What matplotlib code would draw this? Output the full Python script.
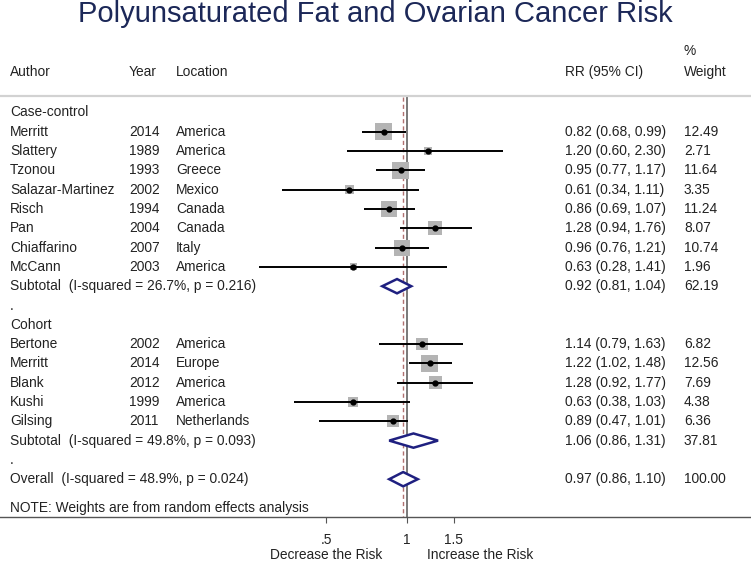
import matplotlib.pyplot as plt
import numpy as np

plt.rcParams['font.family'] = ['Liberation Sans', 'DejaVu Sans']

# case-control studies
cc_author = ['Merritt', 'Slattery', 'Tzonou', 'Salazar-Martinez', 'Risch', 'Pan', 'Chiaffarino', 'McCann']
cc_year = ['2014', '1989', '1993', '2002', '1994', '2004', '2007', '2003']
cc_loc = ['America', 'America', 'Greece', 'Mexico', 'Canada', 'Canada', 'Italy', 'America']
cc_rr = [0.82, 1.20, 0.95, 0.61, 0.86, 1.28, 0.96, 0.63]
cc_lo = [0.68, 0.60, 0.77, 0.34, 0.69, 0.94, 0.76, 0.28]
cc_hi = [0.99, 2.30, 1.17, 1.11, 1.07, 1.76, 1.21, 1.41]
cc_w = [12.49, 2.71, 11.64, 3.35, 11.24, 8.07, 10.74, 1.96]

# cohort studies
co_author = ['Bertone', 'Merritt', 'Blank', 'Kushi', 'Gilsing']
co_year = ['2002', '2014', '2012', '1999', '2011']
co_loc = ['America', 'Europe', 'America', 'America', 'Netherlands']
co_rr = [1.14, 1.22, 1.28, 0.63, 0.89]
co_lo = [0.79, 1.02, 0.92, 0.38, 0.47]
co_hi = [1.63, 1.48, 1.77, 1.03, 1.01]
co_w = [6.82, 12.56, 7.69, 4.38, 6.36]

# pooled estimates: case-control, cohort, overall
pool_label = ['Subtotal  (I-squared = 26.7%, p = 0.216)',
              'Subtotal  (I-squared = 49.8%, p = 0.093)',
              'Overall  (I-squared = 48.9%, p = 0.024)']
pool_rr = [0.92, 1.06, 0.97]
pool_lo = [0.81, 0.86, 0.86]
pool_hi = [1.04, 1.31, 1.10]
pool_w = [62.19, 37.81, 100.00]

W, H = 751, 561
y0, dy = 112.5, 19.3          # pixel y of first row, row spacing
ax_top, ax_bot = 40, 517


def row(px):
    return (px - y0) / dy


fig = plt.figure(figsize=(W / 100, H / 100), dpi=100)
ax = fig.add_axes([0, (H - ax_bot) / H, 1, (ax_bot - ax_top) / H])
ax.set_xscale('log')
ax.set_xlim(np.exp(-406.7 / 116), np.exp((W - 406.7) / 116))
ax.set_ylim(row(ax_bot), row(ax_top))
for s in ['top', 'left', 'right']:
    ax.spines[s].set_visible(False)
ax.spines['bottom'].set_color('#555555')
ax.spines['bottom'].set_linewidth(1.0)
ax.set_yticks([])
ax.set_xticks([0.5, 1, 1.5], ['.5', '1', '1.5'])
ax.xaxis.set_minor_locator(plt.NullLocator())
ax.tick_params(axis='x', length=4.5, width=0.8, color='#555555', pad=7,
               labelsize=9.9, labelcolor='#222222')

tr = ax.get_yaxis_transform()
tc = '#222222'
fs = 9.9
x_auth, x_year, x_loc, x_rr, x_w = 10 / W, 129 / W, 176 / W, 565 / W, 684 / W

fig.text(0.5, 1 - 22 / H, 'Polyunsaturated Fat and Ovarian Cancer Risk',
         ha='center', va='baseline', fontsize=21, color='#1c2858')

# header
hy = row(72)
ax.text(x_auth, hy, 'Author', transform=tr, va='center', fontsize=fs, color=tc)
ax.text(x_year, hy, 'Year', transform=tr, va='center', fontsize=fs, color=tc)
ax.text(x_loc, hy, 'Location', transform=tr, va='center', fontsize=fs, color=tc)
ax.text(x_rr, hy, 'RR (95% CI)', transform=tr, va='center', fontsize=fs, color=tc)
ax.text(x_w, hy, 'Weight', transform=tr, va='center', fontsize=fs, color=tc)
ax.text(x_w, row(51), '%', transform=tr, va='center', fontsize=fs, color=tc)
ax.axhline(row(95.5), color='#d2d2d2', lw=1.6)

# reference lines
ax.plot([1, 1], [row(97), row(ax_bot)], color='#6e6e6e', lw=1.3, zorder=1)
ax.plot([pool_rr[2]] * 2, [row(97), row(ax_bot)], color='#b07070', lw=1.0,
        ls=(0, (3, 2.2)), zorder=1)


def study_rows(authors, years, locs, rr, lo, hi, w, start):
    ys = start + np.arange(len(authors))
    for y, a, yr, lc, r, l, h, wt in zip(ys, authors, years, locs, rr, lo, hi, w):
        ax.text(x_auth, y, a, transform=tr, va='center', fontsize=fs, color=tc)
        ax.text(x_year, y, yr, transform=tr, va='center', fontsize=fs, color=tc)
        ax.text(x_loc, y, lc, transform=tr, va='center', fontsize=fs, color=tc)
        ax.text(x_rr, y, f'{r:.2f} ({l:.2f}, {h:.2f})', transform=tr, va='center',
                fontsize=fs, color=tc)
        ax.text(x_w, y, f'{wt:.2f}', transform=tr, va='center', fontsize=fs, color=tc)
    side = 4.9 * np.sqrt(np.array(w)) * 0.72
    ax.scatter(rr, ys, s=side ** 2, marker='s', color='#b4b4b4', lw=0, zorder=2)
    ax.hlines(ys, lo, hi, color='black', lw=1.4, zorder=3)
    ax.plot(rr, ys, 'o', color='black', ms=3.5, zorder=4)


def pooled(i, y):
    ax.text(x_auth, y, pool_label[i], transform=tr, va='center', fontsize=fs, color=tc)
    ax.text(x_rr, y, f'{pool_rr[i]:.2f} ({pool_lo[i]:.2f}, {pool_hi[i]:.2f})',
            transform=tr, va='center', fontsize=fs, color=tc)
    ax.text(x_w, y, f'{pool_w[i]:.2f}', transform=tr, va='center', fontsize=fs, color=tc)
    hh = 0.37
    xs = [pool_lo[i], pool_rr[i], pool_hi[i], pool_rr[i], pool_lo[i]]
    yv = [y, y - hh, y, y + hh, y]
    ax.fill(xs, yv, facecolor='white', edgecolor='#1f2080', lw=1.8, zorder=3)


ax.text(x_auth, 0, 'Case-control', transform=tr, va='center', fontsize=fs, color=tc)
study_rows(cc_author, cc_year, cc_loc, cc_rr, cc_lo, cc_hi, cc_w, 1)
pooled(0, 9)
ax.text(x_auth, 10, '.', transform=tr, va='center', fontsize=fs, color=tc)
ax.text(x_auth, 11, 'Cohort', transform=tr, va='center', fontsize=fs, color=tc)
study_rows(co_author, co_year, co_loc, co_rr, co_lo, co_hi, co_w, 12)
pooled(1, 17)
ax.text(x_auth, 18, '.', transform=tr, va='center', fontsize=fs, color=tc)
pooled(2, 19)
ax.text(x_auth, row(508), 'NOTE: Weights are from random effects analysis',
        transform=tr, va='center', fontsize=fs, color=tc)

# bottom captions (below the axis)
cap_y = (ax_bot - 555) / (ax_bot - ax_top)
ax.text(0.5, cap_y, 'Decrease the Risk', transform=ax.get_xaxis_transform(),
        ha='center', va='center', fontsize=fs, color=tc)
ax.text(1.88, cap_y, 'Increase the Risk', transform=ax.get_xaxis_transform(),
        ha='center', va='center', fontsize=fs, color=tc)

fig.savefig('out.png', dpi=100)
